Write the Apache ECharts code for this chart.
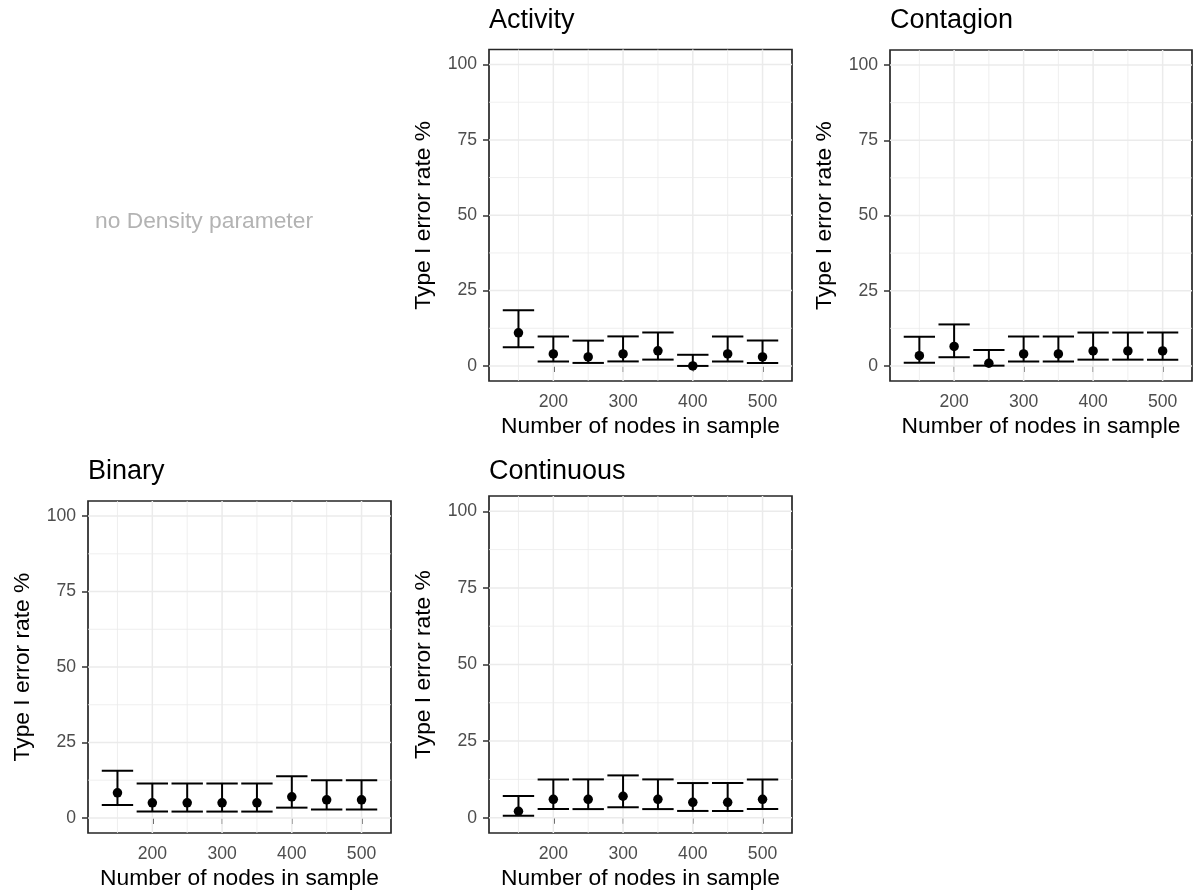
<!DOCTYPE html>
<html>
<head>
<meta charset="utf-8">
<script src="https://cdn.jsdelivr.net/npm/echarts@6/dist/echarts.min.js"></script>
<style>
  html, body { margin: 0; padding: 0; background: #ffffff; }
  #chart { width: 1198px; height: 894px; }
</style>
</head>
<body>
<div id="chart"></div>
<script>
// ---- Data ----
const xNodes = [150, 200, 250, 300, 350, 400, 450, 500];

const activityEst = [11, 4, 3, 4, 5, 0, 4, 3];
const activityLo  = [6.2, 1.5, 1.0, 1.5, 2.1, 0, 1.5, 1.0];
const activityHi  = [18.5, 9.8, 8.4, 9.8, 11.1, 3.7, 9.8, 8.4];

const contagionEst = [3.4, 6.5, 0.9, 4, 4, 5, 5, 5];
const contagionLo  = [1.1, 2.9, 0.1, 1.5, 1.5, 2.1, 2.1, 2.1];
const contagionHi  = [9.7, 13.8, 5.3, 9.8, 9.8, 11.1, 11.1, 11.1];

const binaryEst = [8.3, 5, 5, 5, 5, 7, 6, 6];
const binaryLo  = [4.3, 2.1, 2.1, 2.1, 2.1, 3.4, 2.8, 2.8];
const binaryHi  = [15.6, 11.4, 11.4, 11.4, 11.4, 13.8, 12.5, 12.5];

const continuousEst = [2.1, 6, 6, 7, 6, 5, 5, 6];
const continuousLo  = [0.6, 2.8, 2.8, 3.4, 2.8, 2.2, 2.2, 2.8];
const continuousHi  = [7.1, 12.5, 12.5, 13.8, 12.5, 11.3, 11.3, 12.5];

const panelTitles = ['Activity', 'Contagion', 'Binary', 'Continuous'];
const emptyPanelText = 'no Density parameter';

const xTickValues = [200, 300, 400, 500];
const xMinorValues = [150, 250, 350, 450];
const yTickValues = [0, 25, 50, 75, 100];
const yMinorValues = [12.5, 37.5, 62.5, 87.5];

const xAxisTitle = 'Number of nodes in sample';
const yAxisTitle = 'Type I error rate %';

// ---- Scales / layout ----
const capHalfWidth = 22.5;
const xMin = 107.75, xMax = 542.25;
const yMin = -5, yMax = 105;

const panelData = [
  { est: activityEst, lo: activityLo, hi: activityHi },
  { est: contagionEst, lo: contagionLo, hi: contagionHi },
  { est: binaryEst, lo: binaryLo, hi: binaryHi },
  { est: continuousEst, lo: continuousLo, hi: continuousHi }
];

const gridRects = [
  { left: 489, top: 49.5, width: 303, height: 331.5 },
  { left: 890, top: 50,   width: 302, height: 331 },
  { left: 88,  top: 501,  width: 303, height: 332 },
  { left: 489, top: 496,  width: 303, height: 337 }
];
const titleCenters = [20.5, 20.5, 472, 472];

const FONT = '"Liberation Sans", Arial, Helvetica, sans-serif';

const grids = [], xAxes = [], yAxes = [], series = [], titles = [];

gridRects.forEach((r, i) => {
  grids.push({
    left: r.left, top: r.top, width: r.width, height: r.height,
    show: true, borderColor: '#262626', borderWidth: 1.7,
    backgroundColor: 'transparent', containLabel: false
  });
  xAxes.push({
    type: 'value', gridIndex: i, min: xMin, max: xMax,
    axisLine: { show: false },
    splitLine: { show: false },
    axisTick: { show: true, length: 6, customValues: xTickValues, lineStyle: { color: '#333333', width: 1.5 } },
    axisLabel: { customValues: xTickValues, margin: 12, color: '#4D4D4D', fontSize: 17.6, fontFamily: FONT },
    name: xAxisTitle, nameLocation: 'middle', nameGap: 34,
    nameTextStyle: { color: '#000000', fontSize: 22.8, fontFamily: FONT }
  });
  yAxes.push({
    type: 'value', gridIndex: i, min: yMin, max: yMax,
    axisLine: { show: false },
    splitLine: { show: false },
    axisTick: { show: true, length: 6, customValues: yTickValues, lineStyle: { color: '#333333', width: 1.5 } },
    axisLabel: { customValues: yTickValues, margin: 12, color: '#4D4D4D', fontSize: 17.6, fontFamily: FONT },
    name: yAxisTitle, nameLocation: 'middle', nameGap: 54,
    nameTextStyle: { color: '#000000', fontSize: 22.8, fontFamily: FONT }
  });
  titles.push({
    text: panelTitles[i], left: r.left, top: titleCenters[i] - 13.5, padding: 0,
    textStyle: { color: '#000000', fontSize: 27, fontWeight: 'normal', fontFamily: FONT, lineHeight: 27 }
  });

  // gridlines (major + minor) through the axis scales
  const gl = []
    .concat(yTickValues.map(v => [v, 0, 1]))
    .concat(yMinorValues.map(v => [v, 0, 0]))
    .concat(xTickValues.map(v => [v, 1, 1]))
    .concat(xMinorValues.map(v => [v, 1, 0]));
  series.push({
    type: 'custom', xAxisIndex: i, yAxisIndex: i, z: 1, silent: true,
    data: gl,
    encode: { x: -1, y: -1 },
    renderItem: function (params, api) {
      const cs = params.coordSys;
      const v = api.value(0), vertical = api.value(1), major = api.value(2);
      let shape;
      if (vertical) {
        const px = api.coord([v, 50])[0];
        shape = { x1: px, y1: cs.y, x2: px, y2: cs.y + cs.height };
      } else {
        const py = api.coord([300, v])[1];
        shape = { x1: cs.x, y1: py, x2: cs.x + cs.width, y2: py };
      }
      return { type: 'line', shape: shape, style: { stroke: '#EBEBEB', lineWidth: major ? 1.5 : 0.8 } };
    }
  });

  const d = panelData[i];
  // error bars
  series.push({
    type: 'custom', xAxisIndex: i, yAxisIndex: i, z: 3, silent: true,
    data: xNodes.map((x, j) => [x, d.lo[j], d.hi[j]]),
    encode: { x: 0, y: [1, 2] },
    renderItem: function (params, api) {
      const x = api.value(0);
      const pLo = api.coord([x, api.value(1)]);
      const pHi = api.coord([x, api.value(2)]);
      const hw = api.size([capHalfWidth, 0])[0];
      const st = { stroke: '#000000', lineWidth: 2 };
      return {
        type: 'group',
        children: [
          { type: 'line', shape: { x1: pLo[0], y1: pLo[1], x2: pHi[0], y2: pHi[1] }, style: st },
          { type: 'line', shape: { x1: pHi[0] - hw, y1: pHi[1], x2: pHi[0] + hw, y2: pHi[1] }, style: st },
          { type: 'line', shape: { x1: pLo[0] - hw, y1: pLo[1], x2: pLo[0] + hw, y2: pLo[1] }, style: st }
        ]
      };
    }
  });
  // points
  series.push({
    type: 'scatter', xAxisIndex: i, yAxisIndex: i, z: 4, silent: true,
    symbol: 'circle', symbolSize: 9.5,
    itemStyle: { color: '#000000', opacity: 1 },
    data: xNodes.map((x, j) => [x, d.est[j]])
  });
});

titles.push({
  text: emptyPanelText, left: 204, top: 222 - 11.4, textAlign: 'center', padding: 0,
  textStyle: { color: '#B3B3B3', fontSize: 22.8, fontWeight: 'normal', fontFamily: FONT, lineHeight: 22.8 }
});

const chart = echarts.init(document.getElementById('chart'), null, { renderer: 'canvas' });
chart.setOption({
  animation: false,
  backgroundColor: '#ffffff',
  title: titles,
  grid: grids,
  xAxis: xAxes,
  yAxis: yAxes,
  series: series
});
</script>
</body>
</html>
